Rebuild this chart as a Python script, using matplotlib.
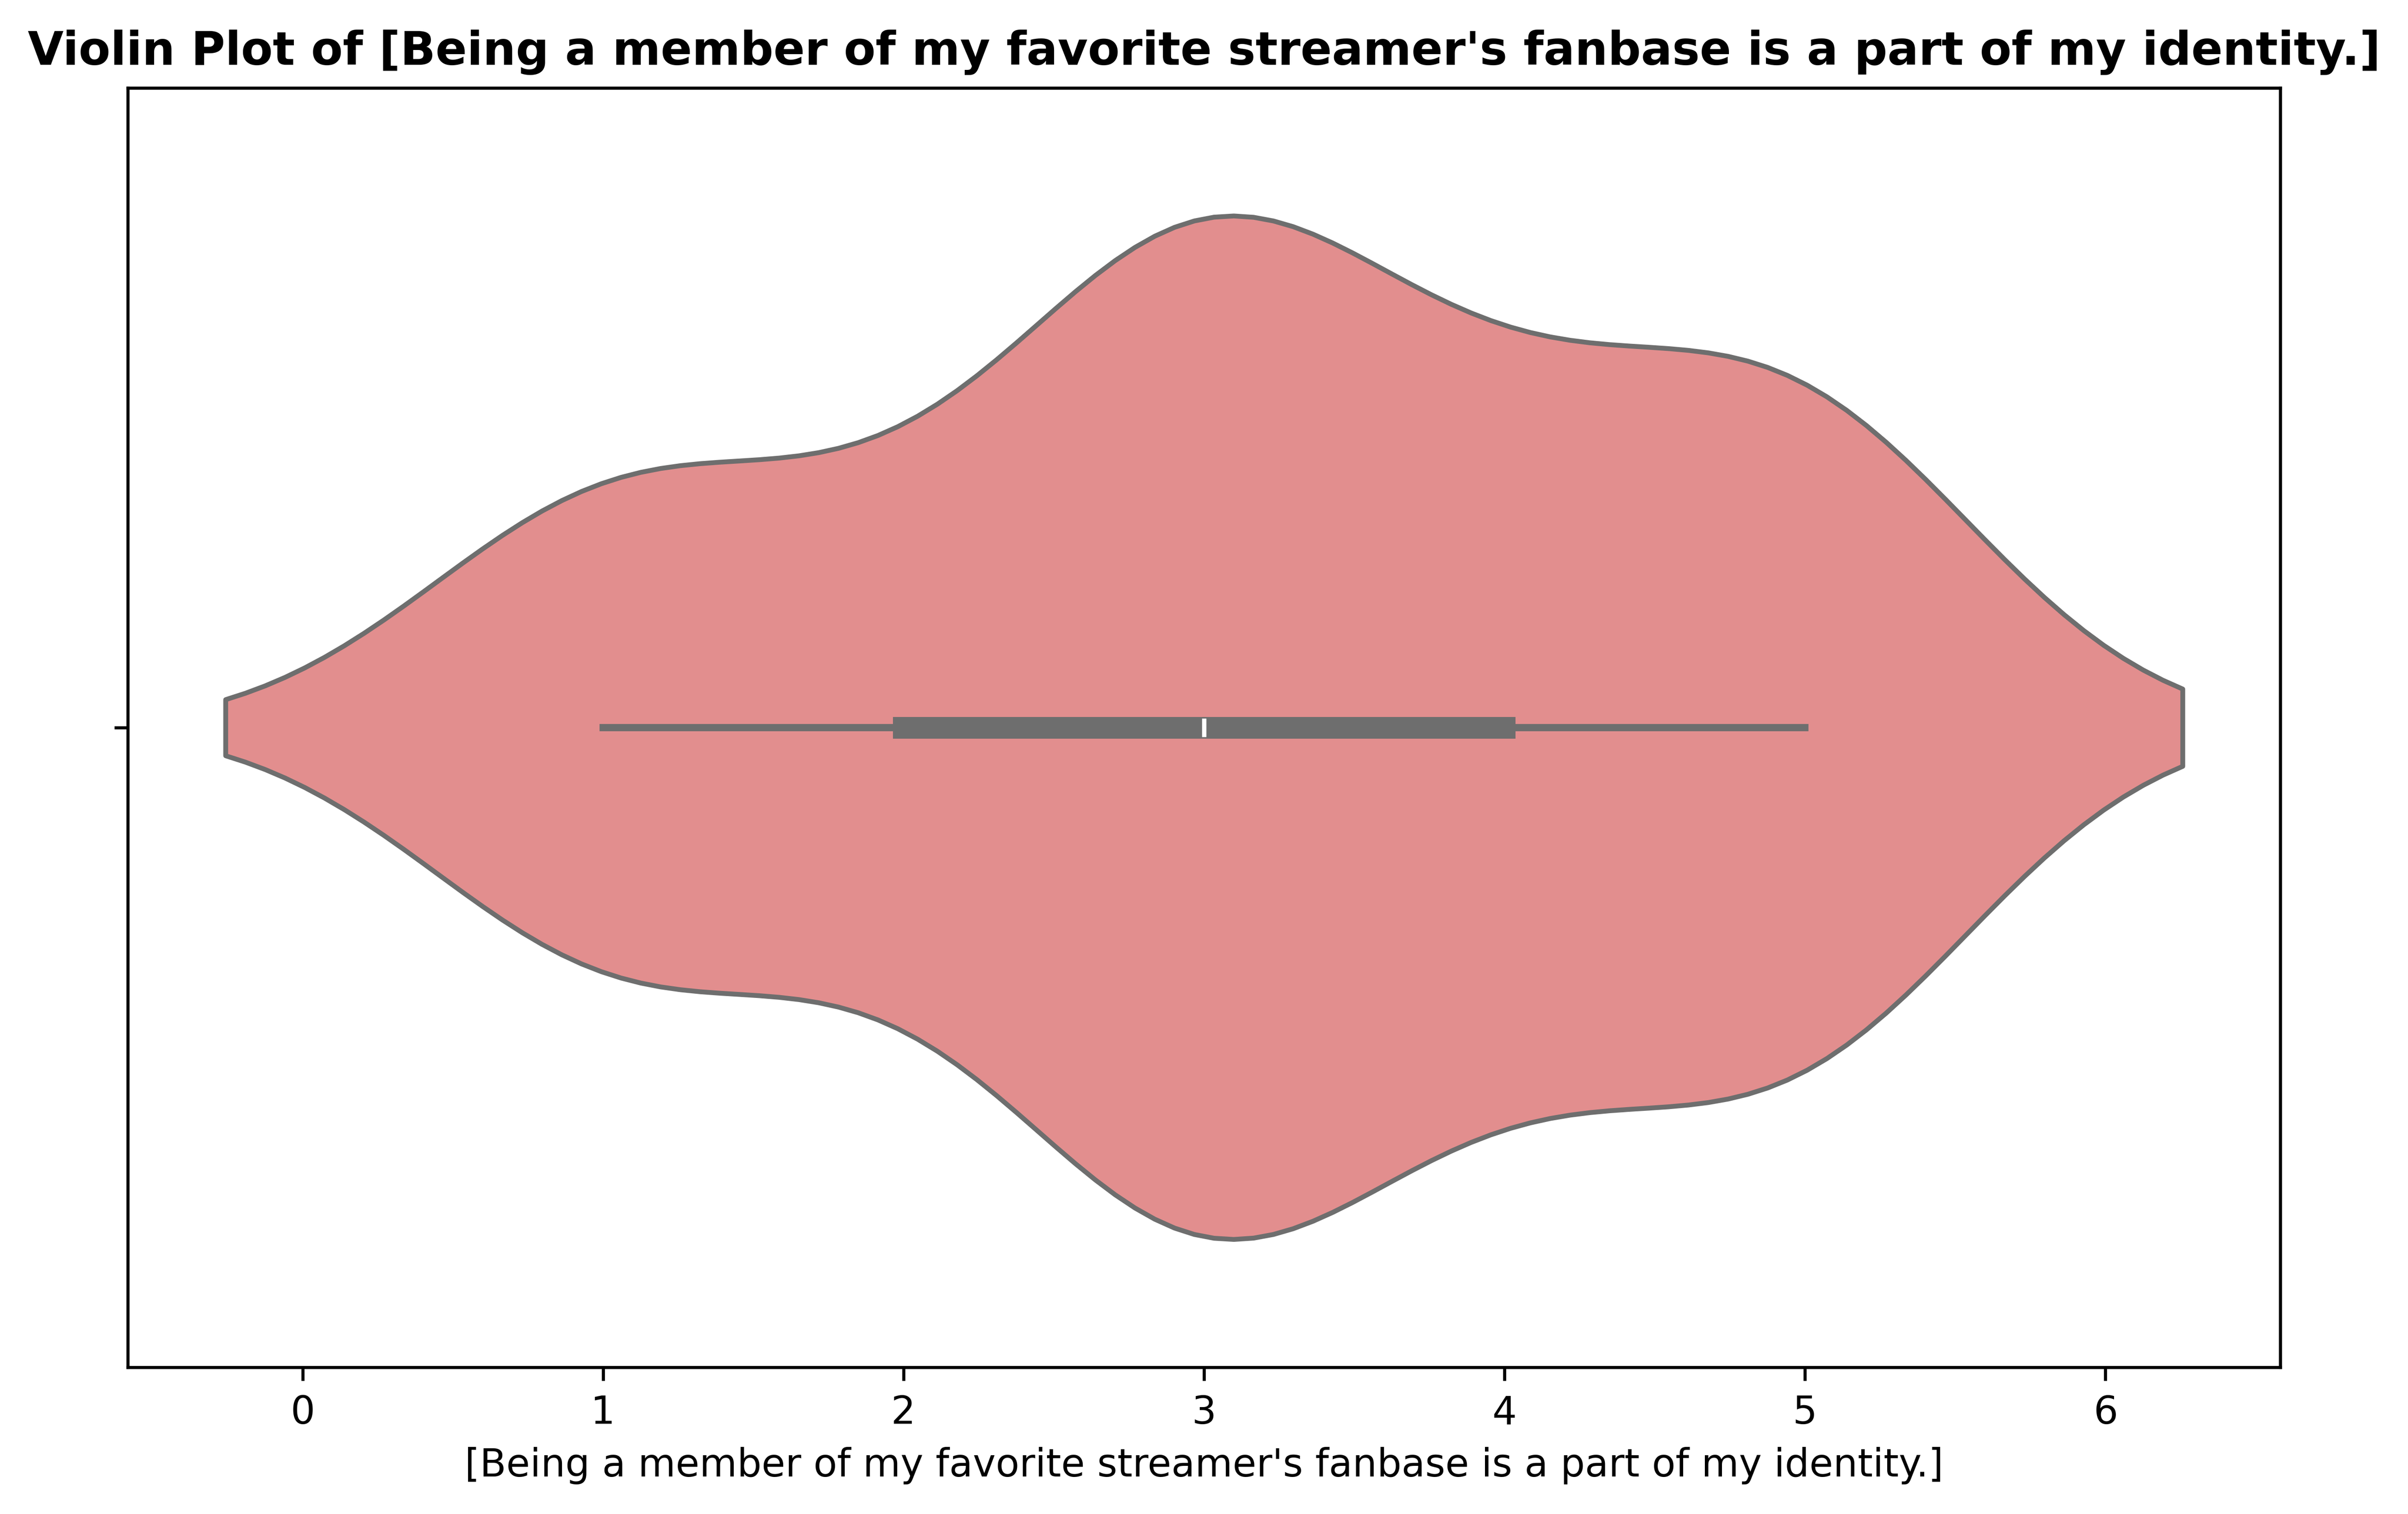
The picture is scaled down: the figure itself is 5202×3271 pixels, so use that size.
import matplotlib
matplotlib.use("Agg")
import matplotlib.pyplot as plt
import numpy as np
import seaborn as sns

QUESTION = "[Being a member of my favorite streamer's fanbase is a part of my identity.]"

levels = [1, 2, 3, 4, 5]
counts = [8, 5, 16, 8, 11]

responses = np.repeat(levels, counts)

fig = plt.figure(figsize=(5202 / 600, 3271 / 600), dpi=600)
ax = fig.add_axes([0.053, 0.097, 0.894, 0.845])
sns.violinplot(x=responses, color="lightcoral", ax=ax)
ax.set_title(f"Violin Plot of {QUESTION}", fontsize=12, fontweight="bold")
ax.set_xlabel(QUESTION)
fig.savefig("out.png", dpi=600)
